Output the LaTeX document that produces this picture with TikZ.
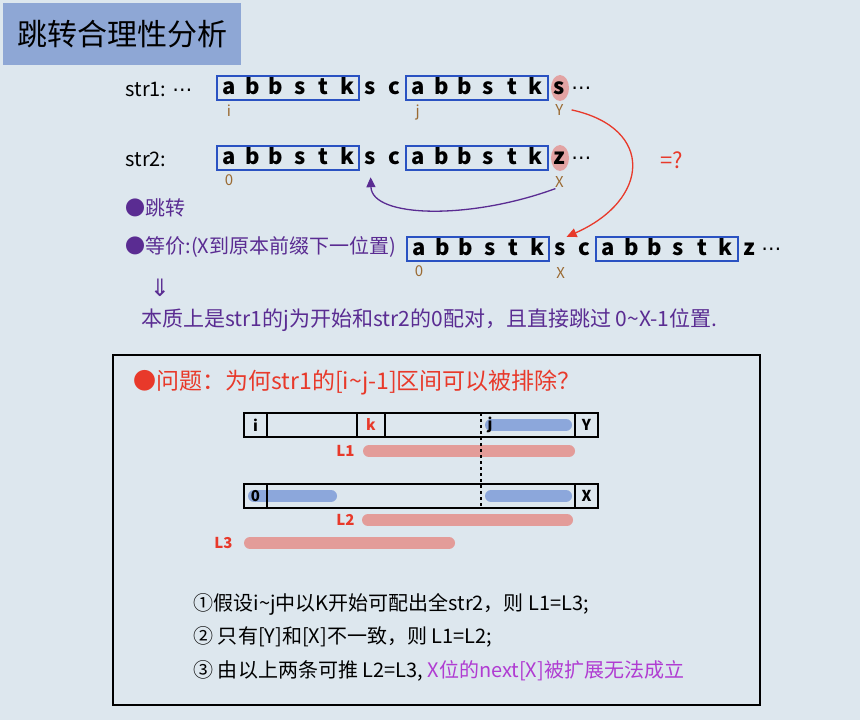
\documentclass[tikz,border=0pt]{standalone}
\usepackage{fontspec}
\setmainfont{Noto Sans CJK SC}
\newfontfamily\symfont{DejaVu Sans}
\usetikzlibrary{positioning,fit,arrows.meta}
\definecolor{bgcol}{HTML}{DDE7EE}
\definecolor{titlecol}{HTML}{8EA7D5}
\definecolor{boxcol}{HTML}{2A52C2}
\definecolor{idxcol}{HTML}{9A6A32}
\definecolor{notecol}{HTML}{5A2C92}
\definecolor{redcol}{HTML}{E8392A}
\definecolor{hlcol}{HTML}{E2A3A3}
\definecolor{bluebarcol}{HTML}{8CA7DB}
\definecolor{pinkbarcol}{HTML}{E39C99}
\definecolor{magcol}{HTML}{B03CD2}
\tikzset{
  chr/.style={inner sep=0pt,minimum width=23.6pt,minimum height=24pt,text height=15pt,text depth=3pt,font=\bfseries\fontsize{22}{22}\selectfont},
  strbox/.style={draw=boxcol,line width=1.6pt,inner sep=0pt},
  idx/.style={text=idxcol,inner sep=1pt,font=\fontsize{15}{15}\selectfont},
  rowlab/.style={anchor=west,font=\fontsize{20}{20}\selectfont},
  note/.style={anchor=west,text=notecol,font=\fontsize{20}{20}\selectfont},
  cell/.style={draw,line width=1.5pt,minimum height=24pt,inner sep=0pt,outer sep=0pt,font=\bfseries\fontsize{15}{15}\selectfont},
  bluebar/.style={bluebarcol,line width=12pt,line cap=round},
  pinkbar/.style={pinkbarcol,line width=12pt,line cap=round},
  llab/.style={anchor=east,text=redcol,font=\bfseries\fontsize{15}{15}\selectfont},
  step line/.style={anchor=west,font=\fontsize{20}{20}\selectfont}
}
\newcommand\moredots{{\symfont ⋯}}
\begin{document}
\begin{tikzpicture}[x=1pt,y=-1pt]
\fill[bgcol] (0,0) rectangle (860,720);
\useasboundingbox (0,0) rectangle (860,720);
% title
\node[fill=titlecol,anchor=north west,minimum width=238pt,minimum height=62pt,font=\fontsize{30}{30}\selectfont] (title) at (3,3) {跳转合理性分析};
% highlighted mismatch
\fill[hlcol] (560,88) ellipse [x radius=9pt,y radius=13pt];
\fill[hlcol] (560,158) ellipse [x radius=9pt,y radius=13pt];
% str1
\node[rowlab] (str1) at (122,89) {str1: \moredots};
\foreach \ch [count=\n from 0] in {a,b,b,s,t,k,s,c,a,b,b,s,t,k,s}
	\node[chr] (s1c\n) at ({229+\n*23.6},88) {\ch};
\node[chr,font=\fontsize{20}{20}\selectfont] at ([xshift=22pt]s1c14) {\moredots};
\node[strbox,fit=(s1c0)(s1c5)] {};
\node[strbox,fit=(s1c8)(s1c13)] {};
\node[idx,below=3pt of s1c0] (i1) {i};
\node[idx,below=3pt of s1c8] (j1) {j};
\node[idx,below=3pt of s1c14] (y1) {Y};
% str2
\node[rowlab] (str2) at (122,159) {str2:};
\foreach \ch [count=\n from 0] in {a,b,b,s,t,k,s,c,a,b,b,s,t,k,z}
	\node[chr] (s2c\n) at ({229+\n*23.6},158) {\ch};
\node[chr,font=\fontsize{20}{20}\selectfont] at ([xshift=22pt]s2c14) {\moredots};
\node[strbox,fit=(s2c0)(s2c5)] {};
\node[strbox,fit=(s2c8)(s2c13)] {};
\node[idx,below=3pt of s2c0] (o2) {0};
\node[idx,below=5pt of s2c14] (x2) {X};
% shifted str2
\foreach \ch [count=\n from 0] in {a,b,b,s,t,k,s,c,a,b,b,s,t,k,z}
	\node[chr] (s3c\n) at ({419+\n*23.6},249) {\ch};
\node[chr,font=\fontsize{20}{20}\selectfont] at ([xshift=22pt]s3c14) {\moredots};
\node[strbox,fit=(s3c0)(s3c5)] {};
\node[strbox,fit=(s3c8)(s3c13)] {};
\node[idx,below=3pt of s3c0] (o3) {0};
\node[idx,below=5pt of s3c6] (x3) {X};
% arrows
\draw[notecol,line width=1.3pt,-{Triangle[length=10pt,width=9pt]}] ([xshift=-4pt]x2.south) .. controls (470,220) and (372,218) .. ([yshift=-7pt]s2c6.south);
\draw[redcol,line width=1.3pt,-{Triangle[length=10pt,width=9pt]}] ([xshift=7pt]y1.east) .. controls (655,128) and (650,200) .. ([xshift=6pt]s3c6.north);
\node[text=redcol,font=\fontsize{22}{22}\selectfont] (eq) at (672,160) {=?};
% notes
\node[note] (jump) at (122,208) {●跳转};
\node[note] (equiv) at (122,247) {●等价:(X到原本前缀下一位置)};
\node[text=notecol,font=\symfont\fontsize{24}{24}\selectfont] (imply) at (160,288) {⇓};
\node[note,font=\fontsize{21}{21}\selectfont] (essence) at (138,320) {本质上是str1的j为开始和str2的0配对，且直接跳过 0\textasciitilde X-1位置.};
% question frame
\draw[line width=1.5pt] (113,355) rectangle (760,705);
\node[anchor=west,text=redcol,font=\fontsize{23}{23}\selectfont] (question) at (130,383) {●问题：为何str1的[i\textasciitilde j-1]区间可以被排除？};
% bars
\draw[bluebar] (491,425) -- (566,425);
\draw[bluebar] (254,496) -- (331,496);
\draw[bluebar] (491,496) -- (566,496);
\draw[pinkbar] (369,451) -- (569,451);
\draw[pinkbar] (368,520) -- (567,520);
\draw[pinkbar] (250,543) -- (449,543);
\node[cell,minimum width=23pt] (ci) at (255.5,425) {i};
\node[cell,minimum width=90pt,right=0pt of ci] (gapa) {};
\node[cell,minimum width=28pt,right=0pt of gapa,text=redcol] (ck) {k};
\node[cell,minimum width=190pt,right=0pt of ck] (gapb) {};
\node[cell,minimum width=23pt,right=0pt of gapb] (cy) {Y};
\node[font=\bfseries\fontsize{15}{15}\selectfont] (cj) at (490,425) {j};
\node[cell,minimum width=23pt] (co) at (255.5,496) {0};
\node[cell,minimum width=308pt,right=0pt of co] (gapc) {};
\node[cell,minimum width=23pt,right=0pt of gapc] (cx) {X};
\draw[dashed,line width=1.3pt] (gapb.north -| 481,0) -- (gapc.south -| 481,0);
\node[llab] (l1) at (358,451) {L1};
\node[llab] (l2) at (358,520) {L2};
\node[llab] (l3) at (236,543) {L3};
% reasoning
\node[step line] (stepa) at (190,604) {①假设i\textasciitilde j中以K开始可配出全str2，则 L1=L3;};
\node[step line] (stepb) at (190,637) {② 只有[Y]和[X]不一致，则 L1=L2;};
\node[step line] (stepc) at (190,671) {③ 由以上两条可推 L2=L3, {\color{magcol}X位的next[X]被扩展无法成立}};
\end{tikzpicture}
\end{document}
